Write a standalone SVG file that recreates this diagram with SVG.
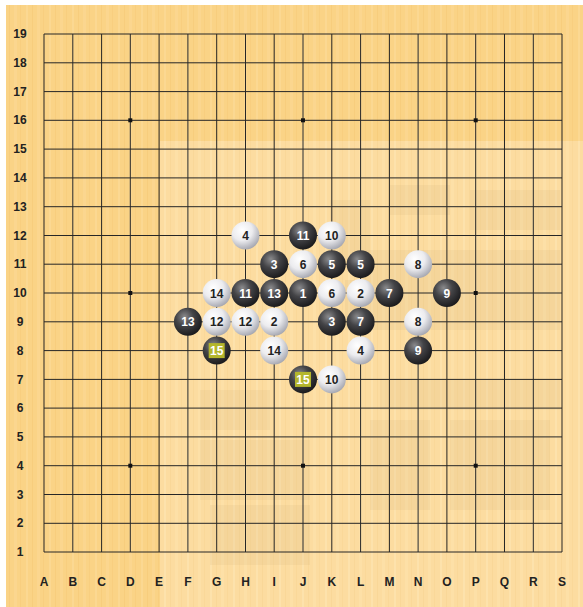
<svg xmlns="http://www.w3.org/2000/svg" width="583" height="607" viewBox="0 0 583 607">
<defs>
<pattern id="woodA" width="23" height="607" patternUnits="userSpaceOnUse">
<rect width="23" height="607" fill="#fad386"/>
<rect x="3" width="2" height="607" fill="#fcdc9a" opacity="0.6"/>
<rect x="9" width="1" height="607" fill="#f3c774" opacity="0.5"/>
<rect x="14" width="3" height="607" fill="#fbd894" opacity="0.6"/>
<rect x="20" width="1" height="607" fill="#f5ca78" opacity="0.5"/>
</pattern>
<pattern id="woodB" width="23" height="607" patternUnits="userSpaceOnUse">
<rect width="23" height="607" fill="#fcdca0"/>
<rect x="3" width="2" height="607" fill="#fee6b4" opacity="0.6"/>
<rect x="9" width="1" height="607" fill="#f6d290" opacity="0.5"/>
<rect x="14" width="3" height="607" fill="#fde2ab" opacity="0.6"/>
<rect x="20" width="1" height="607" fill="#f7d492" opacity="0.5"/>
</pattern>
<radialGradient id="gb" cx="0.38" cy="0.32" r="0.7">
<stop offset="0" stop-color="#8a8a8c"/>
<stop offset="0.45" stop-color="#444447"/>
<stop offset="1" stop-color="#1a1a1c"/>
</radialGradient>
<radialGradient id="gw" cx="0.38" cy="0.32" r="0.72">
<stop offset="0" stop-color="#ffffff"/>
<stop offset="0.5" stop-color="#ececef"/>
<stop offset="1" stop-color="#a2a4ae"/>
</radialGradient>
<style>
.lbl{font-family:"Liberation Sans",Arial,sans-serif;font-weight:bold;font-size:12px;fill:#222;text-anchor:middle}
.gl{stroke:#262626;stroke-width:1;fill:none}
.b{fill:url(#gb)}
.w{fill:url(#gw)}
.nb{font-family:"Liberation Sans",Arial,sans-serif;font-weight:bold;font-size:12px;fill:#fff;text-anchor:middle}
.nw{font-family:"Liberation Sans",Arial,sans-serif;font-weight:bold;font-size:12px;fill:#222;text-anchor:middle}
.wm{fill:#c9a877;opacity:0.13}
</style>
</defs>
<rect width="583" height="607" fill="#ffffff"/>
<rect x="6" y="5" width="577" height="602" fill="url(#woodA)"/>
<rect x="160" y="141" width="423" height="466" fill="url(#woodB)"/>
<g id="watermark">
<rect class="wm" x="330" y="200" width="40" height="60"/>
<rect class="wm" x="390" y="185" width="60" height="30"/>
<rect class="wm" x="470" y="190" width="90" height="40"/>
<rect class="wm" x="360" y="250" width="200" height="30"/>
<rect class="wm" x="345" y="280" width="215" height="50"/>
<rect class="wm" x="200" y="390" width="70" height="40"/>
<rect class="wm" x="200" y="440" width="110" height="60"/>
<rect class="wm" x="210" y="505" width="100" height="60"/>
<rect class="wm" x="380" y="380" width="180" height="30"/>
<rect class="wm" x="370" y="420" width="60" height="90"/>
<rect class="wm" x="450" y="420" width="100" height="90"/>
</g>
<g id="grid" class="gl">
<path d="M44 34V552M72.8 34V552M101.6 34V552M130.3 34V552M159.1 34V552M187.9 34V552M216.7 34V552M245.5 34V552M274.2 34V552M303 34V552M331.8 34V552M360.6 34V552M389.4 34V552M418.1 34V552M446.9 34V552M475.7 34V552M504.5 34V552M533.3 34V552M562 34V552"/>
<path d="M44 34H562M44 62.8H562M44 91.6H562M44 120.3H562M44 149.1H562M44 177.9H562M44 206.7H562M44 235.5H562M44 264.2H562M44 293H562M44 321.8H562M44 350.6H562M44 379.4H562M44 408.1H562M44 436.9H562M44 465.7H562M44 494.5H562M44 523.3H562M44 552H562"/>
</g>
<g id="stars" fill="#111">
<rect x="128.3" y="118.3" width="4" height="4"/>
<rect x="301" y="118.3" width="4" height="4"/>
<rect x="473.7" y="118.3" width="4" height="4"/>
<rect x="128.3" y="291" width="4" height="4"/>
<rect x="473.7" y="291" width="4" height="4"/>
<rect x="128.3" y="463.7" width="4" height="4"/>
<rect x="301" y="463.7" width="4" height="4"/>
<rect x="473.7" y="463.7" width="4" height="4"/>
</g>
<g id="row-labels" class="lbl">
<text x="20" y="38">19</text><text x="20" y="67">18</text><text x="20" y="96">17</text><text x="20" y="124">16</text><text x="20" y="153">15</text><text x="20" y="182">14</text><text x="20" y="211">13</text><text x="20" y="240">12</text><text x="20" y="268">11</text><text x="20" y="297">10</text><text x="20" y="326">9</text><text x="20" y="355">8</text><text x="20" y="384">7</text><text x="20" y="412">6</text><text x="20" y="441">5</text><text x="20" y="470">4</text><text x="20" y="499">3</text><text x="20" y="527">2</text><text x="20" y="556">1</text>
</g>
<g id="col-labels" class="lbl">
<text x="44" y="586">A</text><text x="72.8" y="586">B</text><text x="101.6" y="586">C</text><text x="130.3" y="586">D</text><text x="159.1" y="586">E</text><text x="187.9" y="586">F</text><text x="216.7" y="586">G</text><text x="245.5" y="586">H</text><text x="274.2" y="586">I</text><text x="303" y="586">J</text><text x="331.8" y="586">K</text><text x="360.6" y="586">L</text><text x="389.4" y="586">M</text><text x="418.1" y="586">N</text><text x="446.9" y="586">O</text><text x="475.7" y="586">P</text><text x="504.5" y="586">Q</text><text x="533.3" y="586">R</text><text x="562" y="586">S</text>
</g>
<g id="stone-H12"><circle class="w" cx="245.5" cy="235.5" r="14"/><text class="nw" x="245.5" y="240">4</text></g>
<g id="stone-J12"><circle class="b" cx="303" cy="235.5" r="14"/><text class="nb" x="303" y="240">11</text></g>
<g id="stone-K12"><circle class="w" cx="331.8" cy="235.5" r="14"/><text class="nw" x="331.8" y="240">10</text></g>
<g id="stone-I11"><circle class="b" cx="274.2" cy="264.2" r="14"/><text class="nb" x="274.2" y="268.7">3</text></g>
<g id="stone-J11"><circle class="w" cx="303" cy="264.2" r="14"/><text class="nw" x="303" y="268.7">6</text></g>
<g id="stone-K11"><circle class="b" cx="331.8" cy="264.2" r="14"/><text class="nb" x="331.8" y="268.7">5</text></g>
<g id="stone-L11"><circle class="b" cx="360.6" cy="264.2" r="14"/><text class="nb" x="360.6" y="268.7">5</text></g>
<g id="stone-N11"><circle class="w" cx="418.1" cy="264.2" r="14"/><text class="nw" x="418.1" y="268.7">8</text></g>
<g id="stone-G10"><circle class="w" cx="216.7" cy="293" r="14"/><text class="nw" x="216.7" y="297.5">14</text></g>
<g id="stone-H10"><circle class="b" cx="245.5" cy="293" r="14"/><text class="nb" x="245.5" y="297.5">11</text></g>
<g id="stone-I10"><circle class="b" cx="274.2" cy="293" r="14"/><text class="nb" x="274.2" y="297.5">13</text></g>
<g id="stone-J10"><circle class="b" cx="303" cy="293" r="14"/><text class="nb" x="303" y="297.5">1</text></g>
<g id="stone-K10"><circle class="w" cx="331.8" cy="293" r="14"/><text class="nw" x="331.8" y="297.5">6</text></g>
<g id="stone-L10"><circle class="w" cx="360.6" cy="293" r="14"/><text class="nw" x="360.6" y="297.5">2</text></g>
<g id="stone-M10"><circle class="b" cx="389.4" cy="293" r="14"/><text class="nb" x="389.4" y="297.5">7</text></g>
<g id="stone-O10"><circle class="b" cx="446.9" cy="293" r="14"/><text class="nb" x="446.9" y="297.5">9</text></g>
<g id="stone-F9"><circle class="b" cx="187.9" cy="321.8" r="14"/><text class="nb" x="187.9" y="326.3">13</text></g>
<g id="stone-G9"><circle class="w" cx="216.7" cy="321.8" r="14"/><text class="nw" x="216.7" y="326.3">12</text></g>
<g id="stone-H9"><circle class="w" cx="245.5" cy="321.8" r="14"/><text class="nw" x="245.5" y="326.3">12</text></g>
<g id="stone-I9"><circle class="w" cx="274.2" cy="321.8" r="14"/><text class="nw" x="274.2" y="326.3">2</text></g>
<g id="stone-K9"><circle class="b" cx="331.8" cy="321.8" r="14"/><text class="nb" x="331.8" y="326.3">3</text></g>
<g id="stone-L9"><circle class="b" cx="360.6" cy="321.8" r="14"/><text class="nb" x="360.6" y="326.3">7</text></g>
<g id="stone-N9"><circle class="w" cx="418.1" cy="321.8" r="14"/><text class="nw" x="418.1" y="326.3">8</text></g>
<g id="stone-G8"><circle class="b" cx="216.7" cy="350.6" r="14"/><rect x="208.7" y="343.1" width="16" height="15" fill="#b4b62c"/><text class="nb" x="216.7" y="355.1">15</text></g>
<g id="stone-I8"><circle class="w" cx="274.2" cy="350.6" r="14"/><text class="nw" x="274.2" y="355.1">14</text></g>
<g id="stone-L8"><circle class="w" cx="360.6" cy="350.6" r="14"/><text class="nw" x="360.6" y="355.1">4</text></g>
<g id="stone-N8"><circle class="b" cx="418.1" cy="350.6" r="14"/><text class="nb" x="418.1" y="355.1">9</text></g>
<g id="stone-J7"><circle class="b" cx="303" cy="379.4" r="14"/><rect x="295" y="371.9" width="16" height="15" fill="#b4b62c"/><text class="nb" x="303" y="383.9">15</text></g>
<g id="stone-K7"><circle class="w" cx="331.8" cy="379.4" r="14"/><text class="nw" x="331.8" y="383.9">10</text></g>
</svg>
